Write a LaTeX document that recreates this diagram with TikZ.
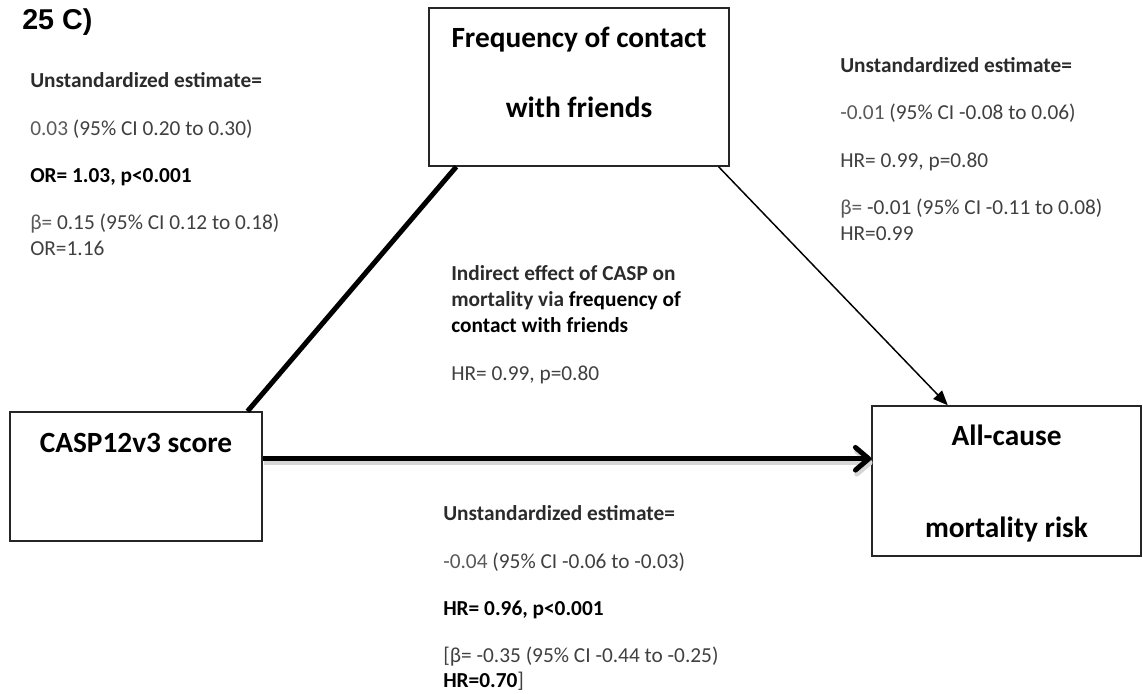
\documentclass[tikz,border=0pt]{standalone}
\usepackage{fontspec}
\setmainfont{Carlito}
\newfontfamily\panelfont{Liberation Sans}
\usepackage{tikz}
\tikzset{x=.75pt,y=-.75pt}
\usetikzlibrary{arrows.meta, calc}
\definecolor{txtgray}{HTML}{404040}
\definecolor{numgray}{HTML}{595959}
\definecolor{headgray}{HTML}{2B2B2B}
\def\bk#1{\textbf{\color{black}#1}}
\def\hd#1{\textbf{\color{headgray}#1}}
\def\gy#1{\textcolor{numgray}{#1}}

\begin{document}
\begin{tikzpicture}[
    box/.style={draw=black!85, line width=1.1pt, fill=white, inner sep=0pt},
    boxtext/.style={font=\fontsize{22}{26}\selectfont\bfseries, anchor=base, inner sep=0pt},
    est/.style={font=\fontsize{16}{19.5}\selectfont, text=txtgray, anchor=base west, inner sep=0pt},
    effect/.style={line width=3.75pt}]
\useasboundingbox (0,0) rectangle (1143,693);
\node[anchor=west, inner sep=0pt, font=\panelfont\fontsize{21.5}{24}\selectfont\bfseries] (panel) at (22,22) {25 C)};

    % the three variables
    \node[box, minimum width=225pt, minimum height=118.5pt] (friends) at (579,87) {};
    \node[box, minimum width=189pt, minimum height=96.75pt] (casp) at (136,476.5) {};
    \node[box, minimum width=201.75pt, minimum height=112.5pt] (mort) at (1006.5,481) {};
    \node[boxtext] (friendsA) at (579,47) {Frequency of contact};
    \node[boxtext] (friendsB) at (579,117) {with friends};
    \node[boxtext] (casplabel) at (136,452) {CASP12v3 score};
    \node[boxtext] (mortA) at (1006.5,445) {All-cause};
    \node[boxtext] (mortB) at (1006.5,537) {mortality risk};

    % paths
    \draw[effect] ($(casp.north west)!0.94!(casp.north east)$)
      -- ($(friends.south west)!0.093!(friends.south east)$);
    \draw[line width=1.1pt, -{Triangle[length=11pt,width=9pt]}]
      ($(friends.south west)!0.963!(friends.south east)$)
      -- ($(mort.north west)!0.283!(mort.north east)$);
    \coordinate (direct) at ($(casp.north east)!0.364!(casp.south east)$);
    \draw[effect, black!16, transform canvas={xshift=1pt,yshift=-3pt},
      -{Straight Barb[length=10pt,width=17pt,round]}] (direct) -- (mort.west |- direct);
    \draw[effect, -{Straight Barb[length=10pt,width=17pt,round]}] (direct) -- (mort.west |- direct);

    % a path: casp -> friends
    \node[est] (aHead) at (30,87) {\hd{Unstandardized estimate=}};
    \node[est] (aEst) at (30,135) {\gy{0.03} (95\% CI 0.20 to 0.30)};
    \node[est] (aOR) at (30,182) {\bk{OR= 1.03, p<0.001}};
    \node[est] (aBeta) at (30,229) {\gy{β=} 0.15 (95\% CI 0.12 to 0.18)};
    \node[est] (aStd) at (30,255) {OR=1.16};

    % b path: friends -> mortality
    \node[est] (bHead) at (840,72) {\hd{Unstandardized estimate=}};
    \node[est] (bEst) at (840,119) {\gy{-0.01} (95\% CI -0.08 to 0.06)};
    \node[est] (bHR) at (840,167) {HR= 0.99, p=0.80};
    \node[est] (bBeta) at (840,214) {\gy{β=} -0.01 (95\% CI -0.11 to 0.08)};
    \node[est] (bStd) at (840,240) {HR=0.99};

    % indirect effect
    \node[est] (ind1) at (451,280) {\hd{Indirect effect of CASP on}};
    \node[est] (ind2) at (451,306) {\hd{mortality via} \bk{frequency of}};
    \node[est] (ind3) at (451,332) {\bk{contact with friends}};
    \node[est] (indHR) at (451,380) {HR= 0.99, p=0.80};

    % c path: casp -> mortality
    \node[est] (cHead) at (443,520) {\hd{Unstandardized estimate=}};
    \node[est] (cEst) at (443,568) {\gy{-0.04} (95\% CI -0.06 to -0.03)};
    \node[est] (cHR) at (443,615) {\bk{HR= 0.96, p<0.001}};
    \node[est] (cBeta) at (443,662) {[β= -0.35 (95\% CI -0.44 to -0.25)};
    \node[est] (cStd) at (443,687) {\bk{HR=0.70}]};
\end{tikzpicture}
\end{document}
